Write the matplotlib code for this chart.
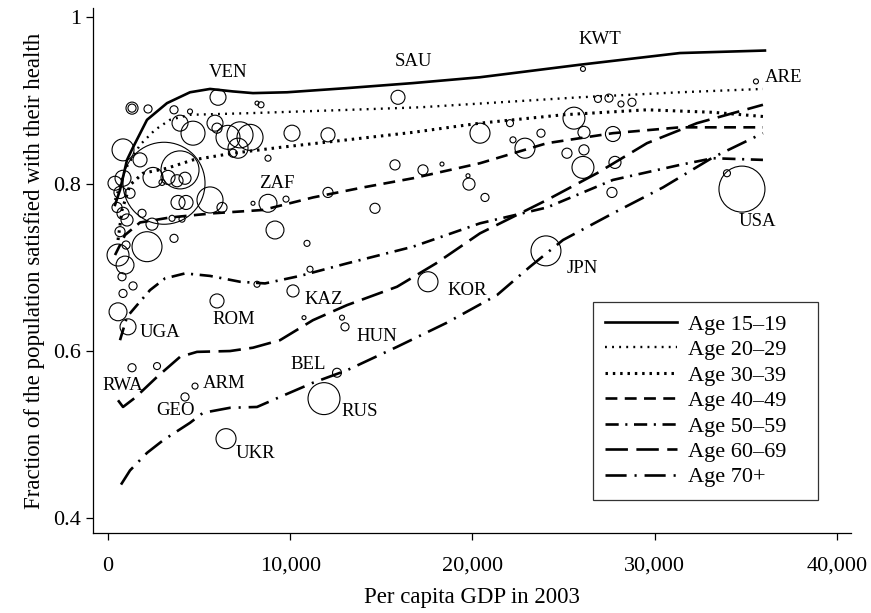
import numpy as np
import matplotlib
matplotlib.use("Agg")
import matplotlib.pyplot as plt
from matplotlib.ticker import FuncFormatter

plt.rcParams['font.family'] = ['Liberation Serif', 'DejaVu Serif']

# smoothed curves by age group (per capita GDP, fraction satisfied)
age_labels = ['Age 15\u201319', 'Age 20\u201329', 'Age 30\u201339', 'Age 40\u201349',
              'Age 50\u201359', 'Age 60\u201369', 'Age 70+']

gdp_15 = [384, 658, 1043, 1372, 2140, 3237, 4499, 5597, 6859, 7956, 9822, 13114, 16735, 20412, 25898, 31385, 36049]
sat_15 = [0.775, 0.793, 0.829, 0.844, 0.877, 0.897, 0.910, 0.914, 0.911, 0.909, 0.910, 0.915, 0.921, 0.928, 0.943, 0.957, 0.960]

gdp_20 = [384, 933, 1756, 2579, 3402, 4499, 7791, 13278, 17119, 21509, 25898, 31385, 35940]
sat_20 = [0.781, 0.817, 0.847, 0.865, 0.877, 0.883, 0.885, 0.889, 0.892, 0.898, 0.904, 0.910, 0.914]

gdp_30 = [549, 768, 1207, 1920, 3237, 4664, 6859, 9438, 13114, 16735, 20412, 24966, 29575, 33196, 35940]
sat_30 = [0.733, 0.769, 0.799, 0.813, 0.819, 0.829, 0.837, 0.844, 0.853, 0.862, 0.873, 0.883, 0.889, 0.886, 0.881]

gdp_40 = [384, 933, 1756, 3402, 5761, 8505, 11248, 13992, 16735, 20412, 24088, 27709, 31385, 35940]
sat_40 = [0.715, 0.739, 0.754, 0.760, 0.765, 0.769, 0.784, 0.796, 0.807, 0.825, 0.849, 0.861, 0.868, 0.868]

gdp_50 = [658, 1043, 1591, 2305, 3128, 4225, 5597, 7243, 8614, 10535, 13114, 16735, 20412, 24088, 27709, 31385, 33196, 35940]
sat_50 = [0.613, 0.641, 0.655, 0.673, 0.687, 0.693, 0.690, 0.683, 0.681, 0.690, 0.705, 0.725, 0.753, 0.772, 0.805, 0.823, 0.831, 0.829]

gdp_60 = [549, 823, 1481, 2689, 3951, 4883, 6694, 7956, 9438, 11248, 13114, 15858, 18000, 20412, 24088, 26832, 29575, 32319, 35940]
sat_60 = [0.541, 0.533, 0.544, 0.569, 0.593, 0.599, 0.600, 0.604, 0.613, 0.637, 0.655, 0.677, 0.705, 0.741, 0.781, 0.813, 0.849, 0.873, 0.895]

gdp_70 = [713, 1207, 2140, 3018, 4499, 5213, 6694, 8176, 9438, 11248, 13114, 15858, 18601, 21344, 23155, 24966, 27709, 30453, 33196, 35940]
sat_70 = [0.440, 0.457, 0.478, 0.493, 0.514, 0.526, 0.532, 0.533, 0.545, 0.562, 0.577, 0.605, 0.634, 0.667, 0.701, 0.733, 0.765, 0.796, 0.832, 0.861]

# labelled countries: code, gdp, fraction satisfied, population (millions)
lab_codes = ['VEN', 'SAU', 'KWT', 'ARE', 'ZAF', 'USA', 'JPN', 'KOR', 'KAZ', 'HUN',
             'ROM', 'UGA', 'RWA', 'ARM', 'GEO', 'BEL', 'RUS', 'UKR']
lab_gdp = [6036, 15912, 26063, 35556, 8779, 34788, 24033, 17558, 10151, 13004,
           5981, 1097, 1317, 4774, 4225, 12565, 11852, 6475]
lab_sat = [0.904, 0.904, 0.938, 0.923, 0.777, 0.794, 0.720, 0.683, 0.672, 0.629,
           0.660, 0.629, 0.580, 0.558, 0.545, 0.574, 0.543, 0.495]
lab_pop = [35, 27, 3.4, 3.4, 44, 290, 123, 55, 20, 9,
           27, 35, 9, 5, 9, 11, 140, 55]

# other countries
oth_gdp = [1317, 1317, 2195, 3621, 4499, 8176, 8395, 823, 1756, 3951, 4664, 5871, 5981,
           6584, 7243, 7792, 7133, 6859, 8779, 10096, 12071, 3073, 3951, 2469, 3292, 3786,
           4225, 2963, 384, 823, 658, 1207, 494, 823, 1043, 658, 988, 3841, 4280, 5597,
           6255, 1866, 2414, 3512, 4060, 7956, 9767, 9163, 10919, 11084, 8176, 3621, 2140,
           549, 933, 768, 549, 823, 1372, 2689, 10755, 12840, 12071, 14650, 15747, 17284,
           18327, 19753, 19808, 20686, 20412, 22058, 22222, 22881, 23759, 25185, 26118,
           26063, 27819, 27654, 25569, 26118, 27709, 26886, 27490, 28148, 28752, 33965]
oth_sat = [0.891, 0.891, 0.890, 0.889, 0.887, 0.897, 0.895, 0.841, 0.829, 0.873, 0.861,
           0.873, 0.867, 0.856, 0.859, 0.856, 0.843, 0.837, 0.831, 0.861, 0.859, 0.801,
           0.817, 0.808, 0.808, 0.804, 0.807, 0.802, 0.801, 0.807, 0.790, 0.789, 0.772,
           0.765, 0.757, 0.743, 0.727, 0.778, 0.778, 0.781, 0.772, 0.765, 0.752, 0.759,
           0.758, 0.777, 0.782, 0.745, 0.729, 0.698, 0.680, 0.735, 0.725, 0.715, 0.703,
           0.689, 0.647, 0.669, 0.678, 0.582, 0.640, 0.640, 0.790, 0.771, 0.823, 0.817,
           0.824, 0.810, 0.800, 0.784, 0.861, 0.873, 0.853, 0.843, 0.861, 0.837, 0.841,
           0.820, 0.826, 0.790, 0.879, 0.862, 0.860, 0.902, 0.903, 0.896, 0.898, 0.813]
oth_pop = [20, 9, 9, 9, 3.4, 2.2, 5, 66, 27, 35, 79, 35, 14, 79, 93, 93, 55, 9, 5, 35,
           27, 922, 198, 55, 27, 20, 20, 5, 27, 35, 20, 14, 14, 20, 20, 14, 9, 27, 27, 93,
           14, 9, 20, 5, 5, 2.2, 5, 44, 5, 5, 5, 9, 123, 66, 44, 9, 44, 9, 9, 6.7, 2.2,
           3.4, 14, 14, 14, 14, 2.2, 2.2, 20, 9, 55, 6.7, 5, 55, 9, 14, 14, 66, 20, 14,
           66, 20, 31, 6.7, 9, 5, 9, 6.7]

# label offsets in points
lab_offsets = [(7, 18), (11, 26), (12, 21), (20, 3), (6, 14), (11, -23), (26, -13),
               (28, -6), (22, -6), (23, -7), (12, -13), (23, -4), (-7, -13), (21, 2),
               (-7, -10), (-21, 6), (26, -9), (21, -11)]

SIZE_SCALE = 3.78  # marker area per million people

fig = plt.figure(figsize=(8.71, 6.13), dpi=100)
ax = fig.add_axes([0.1068, 0.1305, 0.8702, 0.8565])

ax.scatter(oth_gdp, oth_sat, s=np.array(oth_pop) * SIZE_SCALE, facecolors='none',
           edgecolors='black', linewidths=0.8, zorder=2)
ax.scatter(lab_gdp, lab_sat, s=np.array(lab_pop) * SIZE_SCALE, facecolors='none',
           edgecolors='black', linewidths=0.8, zorder=2)

for code, gx, sy, off in zip(lab_codes, lab_gdp, lab_sat, lab_offsets):
    ax.annotate(code, (gx, sy), xytext=off, textcoords='offset points',
                ha='center', va='center', fontsize=13.5)

curves = [
    (gdp_15, sat_15, '-', 1.9),
    (gdp_20, sat_20, (0, (0.8, 2.2)), 1.7),
    (gdp_30, sat_30, (0, (0.8, 1.6)), 2.2),
    (gdp_40, sat_40, (0, (4.5, 2.8)), 1.9),
    (gdp_50, sat_50, (0, (5, 2.5, 0.8, 2.5)), 1.9),
    (gdp_60, sat_60, (0, (8.5, 3.2)), 1.9),
    (gdp_70, sat_70, (0, (8, 3, 0.8, 3)), 1.9),
]
for (gx, sy, ls, lw), lab in zip(curves, age_labels):
    ax.plot(gx, sy, color='black', linestyle=ls, linewidth=lw, label=lab, zorder=3)

ax.set_xlim(-823, 40770)
ax.set_ylim(0.382, 1.011)
ax.set_xticks([0, 10000, 20000, 30000, 40000])
ax.set_yticks([0.4, 0.6, 0.8, 1.0])
ax.xaxis.set_major_formatter(FuncFormatter(lambda v, p: f"{int(v):,}"))
ax.yaxis.set_major_formatter(FuncFormatter(lambda v, p: '1' if v == 1 else f"{v:.1f}"))
ax.tick_params(labelsize=16, length=5, width=0.9, direction='out')
ax.tick_params(axis='x', pad=12)

for side in ['top', 'right']:
    ax.spines[side].set_visible(False)
for side in ['left', 'bottom']:
    ax.spines[side].set_linewidth(0.9)

ax.set_xlabel('Per capita GDP in 2003', fontsize=16.5, labelpad=8)
ax.set_ylabel('Fraction of the population satisfied with their health', fontsize=16.5, labelpad=6)

# legend box stretched to the reference width
leg = ax.legend(loc='upper left', bbox_to_anchor=(0.66, 0.06, 0.297, 0.38), mode='expand',
                fontsize=16, handlelength=3.2, handletextpad=0.5, labelspacing=0.22,
                frameon=True, fancybox=False, borderpad=0.55, borderaxespad=0)
leg.get_frame().set_edgecolor('black')
leg.get_frame().set_linewidth(0.9)

fig.savefig('out.png', dpi=100)
